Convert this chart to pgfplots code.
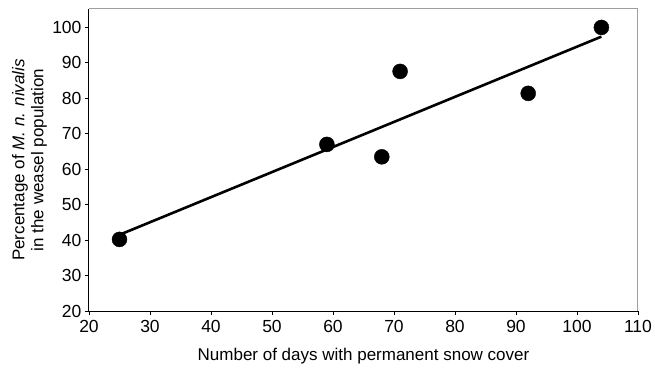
\documentclass[border=0pt]{standalone}
\usepackage{pgfplots}
\pgfplotsset{compat=1.18}
\usepackage{fontspec}
\setmainfont{Liberation Sans}
\begin{document}
\begin{tikzpicture}[x=1pt,y=1pt]
\useasboundingbox (-89,-59) rectangle (566,311);
\begin{axis}[
  at={(0,0)}, anchor=south west,
  scale only axis, width=549pt, height=302pt,
  xmin=20, xmax=110, ymin=20, ymax=105.2,
  xtick={20,30,...,110}, ytick={20,30,...,100},
  axis x line=bottom, axis y line=left,
  axis line style={-, black, line width=1pt},
  tick align=outside, major tick length=4pt,
  tick style={black, line width=0.9pt},
  every tick label/.append style={font=\fontsize{17.5}{21}\selectfont},
  /pgf/number format/assume math mode=true,
  xticklabel style={yshift=-2pt},
  xlabel={Number of days with permanent snow cover},
  xlabel style={font=\fontsize{17}{20}\selectfont, yshift=-8pt},
  ylabel={\begin{tabular}{c}Percentage of \textit{M. n. nivalis}\\[-1pt] in the weasel population\end{tabular}},
  ylabel style={font=\fontsize{17}{20}\selectfont, yshift=-4pt},
  clip=false,
]
\draw[color=black!38, line width=1pt] (rel axis cs:0,1) -- (rel axis cs:1,1) -- (rel axis cs:1,0);
\addplot[black, line width=2.6pt] coordinates {(25,41.5) (104,97.4)};
\addplot[only marks, mark=*, mark size=7.5pt, mark options={fill=black, draw=black}] coordinates {
(25,40.2) (59,67) (68,63.5) (71,87.6) (92,81.4) (104,100)};
\end{axis}
\end{tikzpicture}
\end{document}
